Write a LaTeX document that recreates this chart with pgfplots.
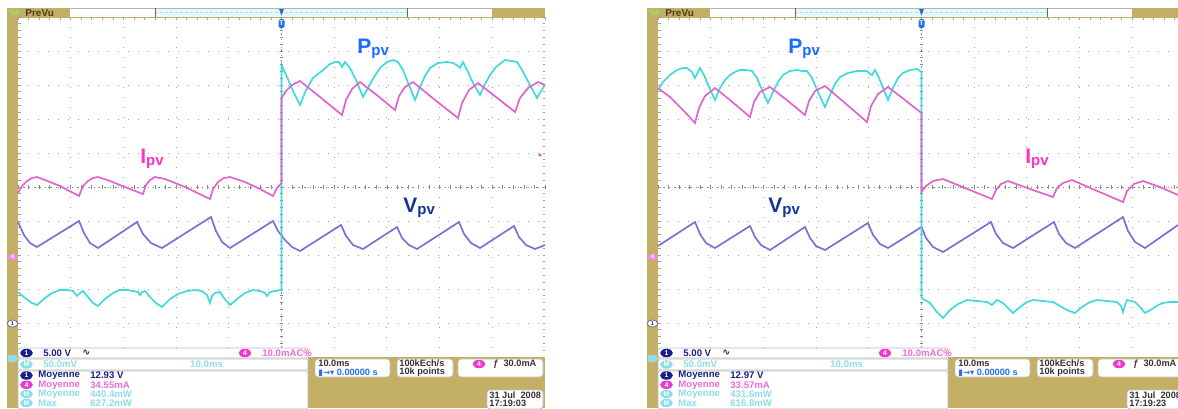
\documentclass[border=0pt]{standalone}
\usepackage{pgfplots}
\pgfplotsset{compat=1.18}
\usepackage{fontspec}
\setmainfont{Liberation Sans}
\newfontfamily\dejavu{DejaVu Sans}

\definecolor{khaki}{RGB}{196,176,100}
\definecolor{textolive}{RGB}{70,60,25}
\definecolor{barcyan}{RGB}{232,248,252}
\definecolor{trcyan}{RGB}{64,218,222}
\definecolor{trmag}{RGB}{224,100,204}
\definecolor{trpur}{RGB}{124,112,212}
\definecolor{lblP}{RGB}{22,108,255}
\definecolor{lblI}{RGB}{255,50,200}
\definecolor{lblV}{RGB}{22,52,150}
\definecolor{chblue}{RGB}{25,30,140}
\definecolor{fadecyan}{RGB}{140,222,235}
\definecolor{fadepink}{RGB}{238,110,215}
\definecolor{pinkb}{RGB}{235,60,210}
\definecolor{gridgray}{RGB}{160,160,160}
\definecolor{centergray}{RGB}{135,135,135}
\definecolor{trigblue}{RGB}{40,110,220}

\pgfplotsset{scopeaxis/.style={scale only axis, anchor=north west, y dir=reverse,
  ymin=17, ymax=357, height=170pt,
  ytick={51,85,119,153,187,221,255,289,323},
  xticklabels={}, yticklabels={}, major tick length=0pt,
  axis line style={draw=none}, tick style={draw=none},
  grid=major, grid style={gridgray, line width=0.45pt, dash pattern=on 0.6pt off 4.4pt},
  clip=false, no marks}}

\tikzset{info/.style={anchor=west, inner sep=0pt, font=\fontsize{4.8}{5}\selectfont\bfseries}}

\newcommand{\badge}[4]{%
  \fill[#3] (#1,#2) ellipse (3.2pt and 2.1pt);
  \node[inner sep=0pt, font=\fontsize{3.4}{4}\selectfont\bfseries, text=white] at (#1,#2) {#4};}

\newcommand{\paneldeco}[1]{%
\begin{scope}[x=0.5pt,y=-0.5pt,shift={(#1,0)}]
  \fill[khaki] (7,8) rectangle (18,408);
  \fill[khaki] (7,8) rectangle (70,17);
  \fill[white] (70,8) rectangle (155,17);
  \fill[barcyan] (155,8) rectangle (407,17);
  \draw[cyan!35, dash pattern=on 1.5pt off 1pt, line width=0.3pt] (155,12.5)--(407,12.5);
  \fill[white] (407,8) rectangle (492,17);
  \fill[khaki] (492,8) rectangle (545,17);
  \draw[gray!60, line width=0.3pt] (70,8)--(492,8);
  \draw[black!60, line width=0.5pt] (155,8)--(155,17);
  \draw[black!60, line width=0.5pt] (407,8)--(407,17);
  \draw[khaki, line width=0.5pt] (18,17)--(545,17);
  \node[anchor=west, inner sep=0pt, font=\fontsize{5}{5}\selectfont\bfseries, text=textolive] at (25,12.8) {PreVu};
  \node[anchor=west, inner sep=0pt, font=\fontsize{3.4}{4}\selectfont, text=green!55!white] at (8.5,12.8) {Tek};
  \foreach \k in {0,...,50} {
    \draw[gridgray, line width=0.35pt] (18,{17+\k*6.8})--(20.5,{17+\k*6.8});
    \draw[gridgray, line width=0.35pt] (542.5,{17+\k*6.8})--(545,{17+\k*6.8});
    \draw[centergray, line width=0.35pt] (279.8,{17+\k*6.8})--(283.2,{17+\k*6.8});
  }
  \foreach \k in {0,...,50} {
    \draw[centergray, line width=0.35pt] ({18+\k*10.54},185.3)--({18+\k*10.54},188.7);
    \draw[gridgray, line width=0.35pt] ({18+\k*10.54},17)--({18+\k*10.54},19.5);
  }
  \draw[centergray, line width=0.4pt, dash pattern=on 0.7pt off 2pt] (281.5,17)--(281.5,357);
  \draw[centergray, line width=0.4pt, dash pattern=on 0.7pt off 2pt] (18,187)--(545,187);
\end{scope}}

\newcommand{\panelinfo}[7]{%
\begin{scope}[x=0.5pt,y=-0.5pt,shift={(#1,0)}]
  \fill[khaki] (308,357) rectangle (545,408);
  \filldraw[fill=white, draw=gray!55, line width=0.4pt, rounded corners=0.8pt] (18,348) rectangle (308,358);
  \filldraw[fill=white, draw=gray!55, line width=0.4pt, rounded corners=0.8pt] (18,359) rectangle (308,370);
  \filldraw[fill=white, draw=gray!55, line width=0.4pt, rounded corners=0.8pt] (18,371) rectangle (308,409);
  \fill[fadecyan, rounded corners=0.8pt] (8,355) rectangle (17,362);
  \badge{26.5}{353}{chblue}{1}
  \node[info, text=chblue] at (43,353) {5.00 V};
  \node[info, text=chblue] at (82,353) {\dejavu\fontsize{4.8}{5}\selectfont ∿};
  \badge{245}{353}{pinkb}{4}
  \node[info, text=fadepink] at (262,353) {10.0mAC\%};
  \badge{26.5}{364.5}{fadecyan}{M}
  \node[info, text=fadecyan] at (43,364.5) {50.0mV};
  \node[info, text=fadecyan] at (190,364.5) {10.0ms};
  \badge{26.5}{375.5}{chblue}{1}
  \node[info, text=chblue] at (38,375.5) {Moyenne};
  \node[info, text=chblue] at (90,375.5) {#2};
  \badge{26.5}{384.8}{pinkb}{4}
  \node[info, text=fadepink] at (38,384.8) {Moyenne};
  \node[info, text=fadepink] at (90,384.8) {#3};
  \badge{26.5}{394}{fadecyan}{M}
  \node[info, text=fadecyan] at (38,394) {Moyenne};
  \node[info, text=fadecyan] at (90,394) {#4};
  \badge{26.5}{403}{fadecyan}{M}
  \node[info, text=fadecyan] at (38,403) {Max};
  \node[info, text=fadecyan] at (90,403) {#5};
  \filldraw[fill=white, draw=gray!50, rounded corners=1.5pt, line width=0.4pt] (315,359) rectangle (390,377);
  \node[info, font=\fontsize{4.6}{5}\selectfont\bfseries, text=black!80] at (318,363.5) {10.0ms};
  \node[info, font=\fontsize{4.6}{5}\selectfont\bfseries, text=trigblue] at (318,372.5) {{\dejavu\fontsize{4.2}{5}\selectfont ▮→▾} 0.00000 s};
  \filldraw[fill=white, draw=gray!50, rounded corners=1.5pt, line width=0.4pt] (397,359) rectangle (453,377);
  \node[info, font=\fontsize{4.6}{5}\selectfont\bfseries, text=black!80] at (399,363.5) {100kEch/s};
  \node[info, font=\fontsize{4.6}{5}\selectfont\bfseries, text=black!80] at (399,372.5) {10k points};
  \filldraw[fill=white, draw=gray!50, rounded corners=1.5pt, line width=0.4pt] (458,359) rectangle (543,377);
  \badge{479}{364}{pinkb}{4}
  \node[info, font=\fontsize{4.6}{5}\selectfont\bfseries, text=black!80] at (493,364) {ƒ\ \ 30.0mA};
  \filldraw[fill=white, draw=gray!50, rounded corners=1.5pt, line width=0.4pt] (487,390) rectangle (543,409);
  \node[info, font=\fontsize{4.6}{5}\selectfont\bfseries, text=black!80] at (489,395) {31 Jul \ 2008};
  \node[info, font=\fontsize{4.6}{5}\selectfont\bfseries, text=black!80] at (489,403.5) {#6};
  % trigger marker
  \fill[trigblue] (279,9) -- (284,9) -- (281.5,15.5) -- cycle;
  \fill[trigblue, rounded corners=0.8pt] (278.5,19) rectangle (284.5,28);
  \node[inner sep=0pt, font=\fontsize{3.4}{4}\selectfont\bfseries, text=white] at (281.5,23.5) {T};
  % ground markers on left strip
  \fill[pinkb!60!white] (12.5,257) ellipse (2.6pt and 1.6pt);
  \node[inner sep=0pt, font=\fontsize{2.8}{3}\selectfont\bfseries, text=white] at (12.5,257) {4};
  \filldraw[fill=white, draw=chblue!70, line width=0.35pt] (12.5,323.5) ellipse (2.6pt and 1.8pt);
  \node[inner sep=0pt, font=\fontsize{2.8}{3}\selectfont\bfseries, text=chblue] at (12.5,323.5) {1};
  #7
\end{scope}}

\newcommand{\lbl}[2]{{\fontsize{10.5}{11}\selectfont\bfseries #1\raisebox{-1.1pt}{\fontsize{7.5}{8}\selectfont pv}}}

\begin{document}
\begin{tikzpicture}
\clip (0,0) rectangle (589pt,-204pt);
\fill[white] (0,0) rectangle (589pt,-204pt);
\paneldeco{0}
\paneldeco{640}

% ---------------- left screen ----------------
\begin{axis}[scopeaxis, at={(9pt,-8.5pt)}, width=263.5pt, xmin=18, xmax=545,
  xtick={70.7,123.4,176.1,228.8,281.5,334.2,386.9,439.6,492.3}]
% V_pv
\addplot[trpur, line width=0.85pt] coordinates {
(18,222) (24,235) (30,243) (37,247) (79,221) (84,233) (90,243) (98,248)
(137,222) (143,234) (151,243) (162,248) (211,217) (216,231) (222,242) (230,248)
(273,221) (278,231) (285,240) (292,247) (300,251) (341,225) (346,236) (353,245) (363,249)
(397,227) (402,238) (409,245) (417,249) (459,222) (464,234) (471,243) (480,248)
(514,226) (519,237) (526,245) (535,249) (545,245)};
% P_pv
\addplot[trcyan, line width=0.85pt] coordinates {
(18,292) (25,298) (32,303) (37,305) (45,298) (52,293) (60,290) (67,290) (73,291) (77,296) (80,293) (83,291)
(88,297) (93,303) (98,306) (105,299) (113,293) (120,290) (127,290) (133,291) (138,292) (140,295) (142,292) (145,291)
(150,297) (156,303) (162,307) (170,299) (178,294) (187,291) (195,290) (202,291) (207,295) (210,303) (212,296) (215,293) (220,292)
(224,298) (230,305) (237,299) (245,293) (253,290) (260,291) (265,293) (267,296) (270,292) (275,291) (281.5,290)
(281.5,65) (287,77) (293,91) (300,105) (306,90) (313,78) (323,70) (330,64) (335,62) (339,62) (342,67) (345,62)
(350,68) (356,80) (363,97) (368,88) (374,77) (380,68) (387,62) (393,60) (398,62) (403,70) (409,85) (415,100)
(420,87) (425,76) (430,68) (438,63) (447,62) (453,63) (458,66) (460,68) (463,62) (468,72) (474,85) (480,95)
(485,84) (490,75) (496,67) (505,60) (512,61) (517,62) (522,70) (530,85) (537,98) (541,91) (545,85)};
% I_pv
\addplot[trmag, line width=0.85pt] coordinates {
(18,193) (22,186) (27,181) (32,178) (37,177) (45,180) (60,186) (79,196)
(83,186) (88,181) (93,178) (98,177) (110,181) (125,187) (143,194)
(146,185) (150,180) (155,177) (165,179) (185,187) (210,199)
(213,189) (218,182) (224,178) (230,177) (245,182) (260,189) (273,196) (277,188) (281.5,183)
(281.5,98) (286,91) (292,85) (300,81) (320,97) (342,115) (346,100) (352,89) (360,82) (378,96) (395,110)
(399,96) (405,87) (413,82) (435,100) (458,118) (462,103) (469,90) (478,83) (496,97) (515,112)
(520,98) (528,88) (538,82) (545,85)};
\node[anchor=base west, inner sep=0pt, text=lblP] at (axis cs:357,53) {\lbl{P}{}};
\node[anchor=base west, inner sep=0pt, text=lblI] at (axis cs:140,163) {\lbl{I}{}};
\node[anchor=base west, inner sep=0pt, text=lblV] at (axis cs:403,212) {\lbl{V}{}};
\end{axis}

% ---------------- right screen ----------------
\begin{axis}[scopeaxis, at={(329pt,-8.5pt)}, width=260pt, xmin=658, xmax=1178,
  xtick={710.7,763.4,816.1,868.8,921.5,974.2,1026.9,1079.6,1132.3}]
% V_pv
\addplot[trpur, line width=0.85pt] coordinates {
(658,246) (695,222) (700,234) (706,243) (715,248) (750,226) (755,237) (761,245) (770,250)
(805,227) (810,238) (816,246) (825,250) (868,223) (873,235) (880,244) (888,248)
(921.5,227) (926,238) (933,247) (943,252) (991,222) (996,234) (1003,243) (1013,248)
(1054,222) (1059,234) (1066,243) (1075,248) (1123,217) (1128,231) (1135,242) (1145,248) (1178,225)};
% P_pv
\addplot[trcyan, line width=0.85pt] coordinates {
(658,90) (663,82) (670,75) (677,70) (683,68) (687,68) (692,72) (695,78) (698,72) (700,68) (704,75) (709,87) (715,100)
(720,88) (725,80) (730,75) (735,72) (740,70) (746,70) (752,71) (757,78) (762,90) (768,103)
(773,92) (778,82) (783,75) (790,71) (797,70) (802,71) (807,71) (812,78) (818,92) (825,107)
(830,95) (835,84) (840,77) (848,73) (857,71) (867,71) (870,74) (872,75) (875,70) (879,78) (884,90) (888,100)
(893,88) (898,78) (903,73) (910,70) (917,69) (921.5,72)
(921.5,298) (930,303) (936,311) (943,318) (950,310) (958,304) (967,300) (977,301) (987,302) (992,305) (997,300)
(1003,303) (1008,308) (1013,313) (1020,307) (1027,302) (1033,300) (1043,301) (1053,302) (1060,306) (1067,310) (1075,313)
(1082,307) (1090,302) (1097,300) (1107,301) (1117,302) (1121,306) (1123,312) (1125,305) (1127,300) (1135,302)
(1140,307) (1145,313) (1152,309) (1158,305) (1163,303) (1170,302) (1178,302)};
% I_pv
\addplot[trmag, line width=0.85pt] coordinates {
(658,88) (670,97) (685,112) (695,123) (699,108) (705,96) (715,88) (730,100) (750,117)
(754,102) (760,92) (770,87) (788,101) (805,115) (809,101) (815,91) (825,86) (845,103) (867,122)
(871,106) (878,94) (888,87) (905,100) (921.5,113)
(921.5,192) (926,186) (933,181) (943,179) (965,188) (992,199) (996,190) (1001,184) (1008,181) (1030,189) (1053,197)
(1057,188) (1063,183) (1072,180) (1095,190) (1123,202) (1127,191) (1134,184) (1143,181) (1160,187) (1178,195)};
\node[anchor=base west, inner sep=0pt, text=lblP] at (axis cs:788,53) {\lbl{P}{}};
\node[anchor=base west, inner sep=0pt, text=lblV] at (axis cs:768,212) {\lbl{V}{}};
\node[anchor=base west, inner sep=0pt, text=lblI] at (axis cs:1025,163) {\lbl{I}{}};
\end{axis}

\panelinfo{0}{12.93 V}{34.55mA}{440.4mW}{627.2mW}{17:19:03}{\fill[trmag] (540,155) circle (0.9pt);}
\panelinfo{640}{12.97 V}{33.57mA}{431.6mW}{616.8mW}{17:19:23}{}
\end{tikzpicture}
\end{document}
